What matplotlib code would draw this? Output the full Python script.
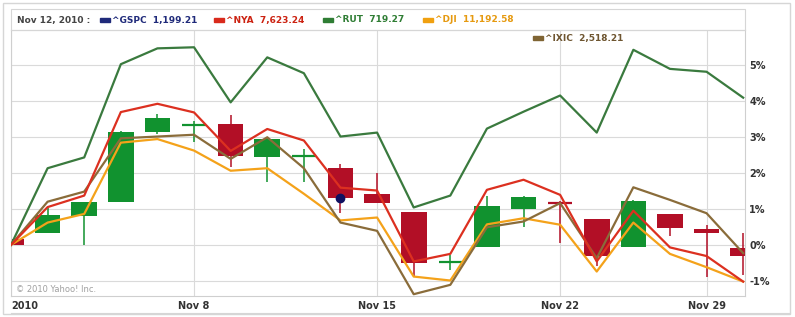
import matplotlib
matplotlib.use('Agg')
import matplotlib.pyplot as plt
from matplotlib.lines import Line2D
from matplotlib.patches import Rectangle
import numpy as np

# trading days, Nov 2010 (Thanksgiving closed)
DAYS = ['Nov 1', 'Nov 2', 'Nov 3', 'Nov 4', 'Nov 5',
        'Nov 8', 'Nov 9', 'Nov 10', 'Nov 11', 'Nov 12',
        'Nov 15', 'Nov 16', 'Nov 17', 'Nov 18', 'Nov 19',
        'Nov 22', 'Nov 23', 'Nov 24', 'Nov 26',
        'Nov 29', 'Nov 30']

# % change vs Nov 1 close
RUT = [0, 2.13, 2.43, 5.02, 5.46, 5.49, 3.96, 5.21, 4.77, 3.01, 3.12,
       1.04, 1.37, 3.23, 3.70, 4.15, 3.12, 5.42, 4.89, 4.81, 4.09]
NYA = [0, 1.05, 1.37, 3.69, 3.92, 3.68, 2.61, 3.22, 2.90, 1.59, 1.51,
       -0.46, -0.25, 1.53, 1.81, 1.39, -0.46, 0.95, -0.07, -0.31, -1.02]
IXIC = [0, 1.20, 1.48, 2.96, 3.01, 3.06, 2.39, 2.99, 2.13, 0.62, 0.39,
        -1.37, -1.11, 0.49, 0.65, 1.16, -0.37, 1.60, 1.25, 0.88, -0.23]
DJI = [0, 0.62, 0.86, 2.84, 2.94, 2.62, 2.06, 2.13, 1.42, 0.68, 0.76,
       -0.88, -0.99, 0.57, 0.74, 0.56, -0.74, 0.62, -0.25, -0.62, -1.02]

# ^GSPC candles, same scale
GSPC_OPEN = [0.17, 0.32, 0.81, 1.20, 3.15, 3.30, 3.36, 2.45, 2.46, 2.13, 1.42,
             0.91, -0.49, -0.05, 1.01, 1.19, 0.71, -0.05, 0.86, 0.44, -0.09]
GSPC_HIGH = [0.99, 1.02, 1.19, 3.16, 3.64, 3.44, 3.61, 3.01, 2.67, 2.25, 1.99,
             0.91, -0.28, 1.37, 1.37, 1.23, 0.71, 1.25, 0.86, 0.56, 0.33]
GSPC_LOW = [-0.56, 0.32, 0.0, 1.20, 3.08, 2.87, 2.16, 1.74, 1.76, 0.88, 1.15,
            -0.88, -0.69, -0.05, 0.51, 0.06, -0.60, -0.05, 0.26, -0.90, -0.85]
GSPC_CLOSE = [0.0, 0.83, 1.19, 3.14, 3.52, 3.32, 2.48, 2.94, 2.47, 1.29, 1.15,
              -0.51, -0.47, 1.08, 1.33, 1.17, -0.30, 1.22, 0.46, 0.32, -0.31]
HOVER_DAY = 9

TICK_DAYS = [0, 5, 10, 15, 19]
TICK_LABELS = ['2010', 'Nov 8', 'Nov 15', 'Nov 22', 'Nov 29']
Y_TICKS = [-1, 0, 1, 2, 3, 4, 5]

LEGEND_NAMES = ['^GSPC', '^NYA', '^RUT', '^DJI', '^IXIC']
LEGEND_VALUES = ['1,199.21', '7,623.24', '719.27', '11,192.58', '2,518.21']

W, H = 795, 317
GREEN = '#11922f'
RED = '#b20f26'
TXT = '#333333'
FONT = 'DejaVu Sans'


def fx(px):
    return px / W


def fy(py):
    return 1 - py / H


fig = plt.figure(figsize=(W / 100, H / 100), dpi=100)
fig.patch.set_facecolor('white')

ax = fig.add_axes([fx(11), fy(296), 734 / W, 266 / H])
x = np.arange(len(DAYS))

# candles
for i in x:
    o, h, l, c = GSPC_OPEN[i], GSPC_HIGH[i], GSPC_LOW[i], GSPC_CLOSE[i]
    col = GREEN if c >= o else RED
    ax.vlines(i, l, h, color=col, lw=1.1, zorder=2)
    if abs(c - o) < 0.05:
        ax.hlines(c, i - 0.32, i + 0.32, color=col, lw=1.6, zorder=2)
    else:
        ax.bar(i, abs(c - o), bottom=min(o, c), width=0.7, color=col,
               lw=0, zorder=2)

# comparison lines
ax.plot(x, RUT, color='#3a7a3e', lw=1.6, zorder=3)
ax.plot(x, DJI, color='#f4a21a', lw=1.6, zorder=3)
ax.plot(x, IXIC, color='#8a6c3a', lw=1.6, zorder=3)
ax.plot(x, NYA, color='#dc3020', lw=1.6, zorder=3)
ax.plot(HOVER_DAY, GSPC_CLOSE[HOVER_DAY], 'o', color='#101060', ms=6, zorder=4)

ax.set_xlim(0, 20.05)
ax.set_ylim(-1.42, 5.97)
ax.set_xticks(TICK_DAYS)
ax.set_xticklabels(TICK_LABELS, fontsize=7, fontweight='bold', color=TXT,
                   family=FONT)
ax.get_xticklabels()[0].set_horizontalalignment('left')
ax.set_yticks(Y_TICKS)
ax.set_yticklabels([f'{v}%' for v in Y_TICKS], fontsize=7, fontweight='bold',
                   color=TXT, family=FONT)
ax.yaxis.tick_right()
ax.tick_params(axis='both', length=0)
ax.tick_params(axis='x', pad=3.5)
ax.tick_params(axis='y', pad=3)
ax.grid(color='#dadada', lw=0.8, zorder=0)
for s in ax.spines.values():
    s.set_color('#cfcfcf')
    s.set_linewidth(0.8)

ax.text(5 / 734, 2 / 266, '\u00a9 2010 Yahoo! Inc.', transform=ax.transAxes,
        fontsize=6, color='#a0a0a0', va='bottom', ha='left')

# frame decorations
fig.add_artist(Rectangle((fx(3), fy(314)), 787 / W, 311 / H, fill=False,
                         ec='#d6d6d6', lw=1, transform=fig.transFigure))
fig.add_artist(Rectangle((fx(11), fy(30)), 734 / W, 21 / H, fill=False,
                         ec='#d6d6d6', lw=0.8, transform=fig.transFigure))
fig.add_artist(Line2D([fx(11), fx(790)], [fy(313), fy(313)], color='#d6d6d6',
                      lw=0.8, transform=fig.transFigure))

# legend row
leg_colors = ['#1f2a7a', '#d92a1c', '#2f7d34', '#f0a010', '#7f6433']
txt_colors = ['#1f2a7a', '#cc2211', '#2f7d34', '#e69a10', '#6e5530']
leg_x = [100, 214, 323, 423, 533]
leg_y = [20, 20, 20, 20, 38]
fig.text(fx(17), fy(20), 'Nov 12, 2010 :', fontsize=6.5, fontweight='bold',
         color='#444444', va='center', ha='left', family=FONT)
for name, val, lc, tc, px, py in zip(LEGEND_NAMES, LEGEND_VALUES, leg_colors,
                                     txt_colors, leg_x, leg_y):
    fig.add_artist(Rectangle((fx(px), fy(py + 2)), 10 / W, 4 / H, color=lc,
                             transform=fig.transFigure))
    fig.text(fx(px + 12), fy(py), f'{name}  {val}', fontsize=6.5,
             fontweight='bold', color=tc, va='center', ha='left', family=FONT)

fig.savefig('out.png', dpi=100)
